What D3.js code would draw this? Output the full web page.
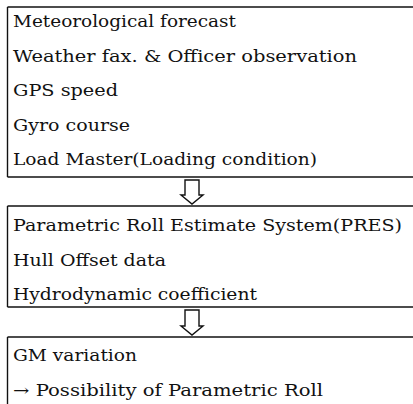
<!DOCTYPE html>
<html>
<head>
<meta charset="utf-8">
<script src="https://cdn.jsdelivr.net/npm/d3@7"></script>
<style>
  body { margin: 0; background: #fff; }
  .item { font-family: "DejaVu Serif", serif; font-size: 16px; fill: #111; }
</style>
</head>
<body>
<div class="chart"></div>
<script>
const inputs = ["Meteorological forecast", "Weather fax. & Officer observation", "GPS speed", "Gyro course", "Load Master(Loading condition)"];
const inputWidths = [223, 344, 105, 117, 304];
const system = ["Parametric Roll Estimate System(PRES)", "Hull Offset data", "Hydrodynamic coefficient"];
const systemWidths = [389, 153, 244];
const result = ["GM variation", "\u2192 Possibility of Parametric Roll"];
const resultWidths = [124, 310];

const width = 413, height = 404;
const svg = d3.select(".chart").append("svg")
  .attr("width", width).attr("height", height);

const boxes = [
  {items: inputs, widths: inputWidths, top: 7, bottom: 177, first: 27, closed: true},
  {items: system, widths: systemWidths, top: 206, bottom: 307, first: 231, closed: true},
  {items: result, widths: resultWidths, top: 337, bottom: 404, first: 361, closed: false}
];

const left = 7.5, textX = 13, pitch = 34.6;

boxes.forEach(b => {
  const g = svg.append("g");
  g.append("line").attr("x1", left).attr("x2", width).attr("y1", b.top).attr("y2", b.top)
    .attr("stroke", "#111").attr("stroke-width", 1.6);
  g.append("line").attr("x1", left).attr("x2", left).attr("y1", b.top).attr("y2", b.bottom)
    .attr("stroke", "#111").attr("stroke-width", 1.4);
  if (b.closed) {
    g.append("line").attr("x1", left).attr("x2", width).attr("y1", b.bottom).attr("y2", b.bottom)
      .attr("stroke", "#111").attr("stroke-width", 1.6);
  }
  g.selectAll("text").data(b.items).enter().append("text")
    .attr("class", "item")
    .attr("x", textX)
    .attr("y", (d, i) => b.first + i * pitch)
    .attr("textLength", (d, i) => b.widths[i])
    .attr("lengthAdjust", "spacingAndGlyphs")
    .text(d => d);
});

// hollow arrows between boxes
const cx = 192;
function arrow(y0, y1) {
  const hb = y1 - 9;
  const p = d3.path();
  p.moveTo(cx - 7, y0);
  p.lineTo(cx + 7, y0);
  p.lineTo(cx + 7, hb);
  p.lineTo(cx + 11, hb);
  p.lineTo(cx, y1);
  p.lineTo(cx - 11, hb);
  p.lineTo(cx - 7, hb);
  p.closePath();
  svg.append("path").attr("d", p.toString())
    .attr("fill", "#fff").attr("stroke", "#111").attr("stroke-width", 1.4);
}
arrow(boxes[0].bottom + 3, boxes[1].top - 2);
arrow(boxes[1].bottom + 3, boxes[2].top - 2);
</script>
</body>
</html>
